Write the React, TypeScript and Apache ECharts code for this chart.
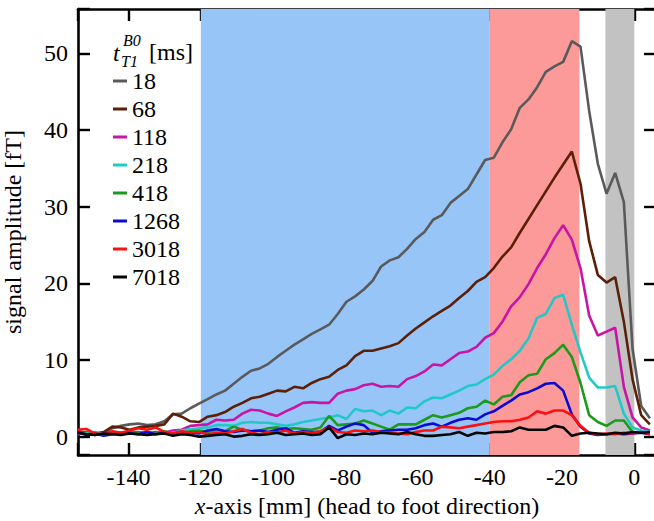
import React, { useEffect, useRef } from "react";
import * as echarts from "echarts";

// x positions of the samples [mm]
const xPos = [
  -154.1, -151.7, -149.3, -146.9, -144.5, -142.1, -139.7, -137.3, -134.9, -132.5,
  -130.1, -127.7, -125.3, -122.9, -120.5, -118.1, -115.7, -113.3, -110.9, -108.5,
  -106.1, -103.7, -101.3, -98.9, -96.5, -94.1, -91.7, -89.3, -86.9, -84.5,
  -82.1, -79.7, -77.3, -74.9, -72.5, -70.1, -67.7, -65.3, -62.9, -60.5,
  -58.1, -55.7, -53.3, -50.9, -48.5, -46.1, -43.7, -41.3, -38.9, -36.5,
  -34.1, -31.7, -29.3, -26.9, -24.5, -22.1, -19.7, -17.3, -14.9, -12.5,
  -10.1, -7.7, -5.3, -2.9, -0.5, 1.9, 4.3,
];

const t18 = [
  0.5, 0.4, 0.3, 0.5, 1.1, 1.4, 1.6, 1.7, 1.5, 1.6,
  2.0, 2.9, 3.0, 3.7, 4.3, 4.9, 5.5, 6.0, 6.9, 7.8,
  8.6, 8.9, 9.5, 10.4, 11.2, 12.0, 12.7, 13.4, 14.0, 14.6,
  16.0, 17.6, 18.3, 19.2, 20.3, 22.2, 23.0, 23.4, 24.5, 25.8,
  26.7, 28.3, 28.9, 30.5, 31.4, 32.3, 34.2, 36.1, 36.4, 38.4,
  40.1, 42.9, 44.0, 45.6, 47.6, 48.3, 48.9, 51.6, 50.9, 42.5,
  35.6, 31.7, 34.4, 30.6, 11.5, 4.0, 2.4,
];
const t68 = [
  0.7, 0.5, 0.4, 0.6, 1.3, 1.2, 0.9, 1.2, 1.3, 1.4,
  1.6, 3.0, 2.6, 2.0, 1.9, 2.6, 2.8, 3.2, 3.9, 4.4,
  5.0, 5.2, 5.6, 6.0, 5.9, 6.5, 6.3, 7.0, 7.5, 7.8,
  8.7, 9.3, 10.5, 11.2, 11.2, 11.5, 11.8, 12.2, 13.2, 14.1,
  14.9, 15.7, 16.4, 17.1, 18.1, 19.0, 20.2, 20.8, 22.0, 23.5,
  24.7, 26.6, 28.4, 30.2, 32.0, 33.8, 35.5, 37.2, 33.0, 25.5,
  21.1, 20.1, 20.8, 15.0, 7.5, 2.8, 1.6,
];
const t118 = [
  0.3, 0.6, 0.2, 0.4, 0.5, 0.3, 0.5, 0.6, 0.4, 0.6,
  0.5, 0.8, 0.9, 1.4, 1.5, 1.6, 2.2, 2.1, 2.2, 3.0,
  3.5, 3.4, 3.0, 2.7, 3.3, 3.8, 4.4, 4.5, 4.4, 4.4,
  5.6, 6.0, 6.2, 6.7, 6.9, 6.5, 6.6, 6.5, 7.5, 7.9,
  8.5, 9.4, 9.3, 10.1, 10.9, 11.1, 11.7, 12.9, 13.5, 15.0,
  17.0, 18.2, 19.9, 22.0, 23.8, 25.9, 27.6, 25.7, 22.0, 15.8,
  13.2, 13.7, 14.2, 6.5, 2.5, 1.2, 0.8,
];
const t218 = [
  0.5, 0.4, 0.6, 0.3, 0.5, 0.4, 0.6, 0.3, 0.5, 0.4,
  0.6, 0.5, 0.8, 1.0, 1.1, 1.2, 1.5, 1.5, 1.4, 1.8,
  1.9, 1.8, 1.8, 1.6, 1.4, 1.6, 1.9, 2.1, 2.3, 2.5,
  2.8, 2.3, 3.6, 3.3, 3.4, 2.8, 3.4, 3.0, 3.8, 3.7,
  4.6, 5.1, 5.0, 5.5, 6.0, 6.6, 6.8, 7.5, 8.1, 9.2,
  10.1, 11.2, 12.8, 15.5, 16.0, 18.1, 18.5, 14.6, 11.0, 7.7,
  6.4, 6.4, 6.6, 3.0, 1.2, 0.8, 0.6,
];
const t418 = [
  0.6, 0.3, 0.5, 0.2, 0.5, 0.4, 0.7, 0.5, 0.6, 0.4,
  0.7, 0.4, 0.5, 0.7, 0.8, 0.6, 0.9, 0.7, 1.3, 0.9,
  0.7, 0.8, 1.1, 1.2, 1.0, 1.1, 1.0, 0.9, 1.2, 2.7,
  1.5, 1.6, 1.7, 2.1, 1.7, 1.3, 0.9, 1.6, 1.6, 1.6,
  2.2, 2.8, 2.5, 2.8, 3.1, 3.7, 3.9, 4.7, 4.2, 5.2,
  5.4, 7.1, 8.0, 8.2, 10.1, 10.9, 12.0, 10.4, 7.0, 2.8,
  1.9, 1.4, 2.1, 2.1, 0.6, 0.5, 0.4,
];
const t1268 = [
  0.6, 0.2, 0.4, 0.1, 0.3, 0.5, 0.4, 0.3, 0.6, 0.3,
  0.5, 0.4, 0.6, 0.5, 0.4, 0.8, 1.0, 0.7, 0.6, 0.8,
  0.7, 0.8, 0.6, 0.9, 1.1, 0.5, 0.7, 0.6, 0.6, 1.4,
  0.8, 1.3, 1.7, 1.5, 0.5, 0.7, 0.8, 0.9, 0.9, 1.1,
  1.5, 1.7, 1.3, 1.8, 2.2, 2.4, 2.2, 2.9, 3.3, 4.0,
  4.7, 5.5, 5.8, 6.3, 6.9, 7.0, 6.0, 2.9, 1.3, 0.4,
  0.2, 0.3, 0.4, 0.3, 0.4, 0.5, 0.3,
];
const t3018 = [
  0.9, 1.0, 0.4, 0.3, 0.7, 0.5, 0.8, 1.1, 0.9, 1.2,
  0.6, 0.4, 0.7, 0.5, 0.6, 0.3, 0.5, 0.4, 0.7, 1.0,
  0.5, 0.3, 0.6, 0.5, 0.8, 0.4, 0.6, 0.5, 0.7, 1.2,
  0.6, 0.5, 0.8, 0.7, 0.8, 0.6, 0.5, 0.4, 0.3, 0.6,
  0.8, 0.8, 1.3, 1.2, 1.1, 1.3, 1.5, 1.7, 1.9, 2.0,
  2.0, 2.2, 2.5, 3.3, 3.0, 3.4, 3.4, 2.8, 1.4, 0.5,
  0.3, 0.4, 0.3, 0.5, 0.4, 0.6, 0.3,
];
const t7018 = [
  0.5, 0.3, 0.2, 0.4, 0.3, 0.2, 0.4, 0.3, 0.2, 0.3,
  0.4, 0.1, 0.3, 0.2, 0.0, 0.1, 0.2, 0.3, 0.0, 0.1,
  0.3, 0.2, 0.3, 0.5, 0.2, 0.3, 0.4, 0.2, 0.3, 1.2,
  -0.2, 0.3, 0.2, 0.4, 0.3, 0.5, 0.4, 0.3, 0.6, 0.3,
  0.1, 0.1, 0.2, 0.3, 0.6, 0.1, 0.5, 0.4, 0.6, 0.6,
  0.7, 1.2, 0.9, 0.9, 0.9, 1.4, 1.2, 0.1, 0.4, 0.5,
  0.4, 0.3, 0.5, 0.4, 0.6, 0.5, 0.6,
];

const seriesNames = ["18", "68", "118", "218", "418", "1268", "3018", "7018"];
const seriesValues = [t18, t68, t118, t218, t418, t1268, t3018, t7018];
const seriesColors = ["#5a5a5a", "#5c1f08", "#c815a8", "#22c8c8", "#1c9a1c", "#0a0ad2", "#fb1010", "#050505"];

// shaded regions along x [mm]
const bandStarts = [-120, -40, -8];
const bandEnds = [-40, -15.2, 0];
const bandColors = ["#97c5f8", "#fb9a98", "#c2c2c2"];

const FONT = "'Liberation Serif', serif";

export default function App() {
  const ref = useRef<HTMLDivElement>(null);
  useEffect(() => {
    if (!ref.current) return;
    const chart = echarts.init(ref.current, null, { renderer: "svg" });
    const tickFmt = (v: number) => (Math.abs(v % 10) < 1e-6 ? String(v) : "");
    const xFmt = (v: number) => (Math.abs(v % 20) < 1e-6 ? String(v) : "");
    const axisLine = { show: true, onZero: false, lineStyle: { color: "#000", width: 2.6 } };
    const axisTick = { show: true, inside: true, length: 12, lineStyle: { color: "#000", width: 2.4 } };
    const xCommon = { type: "value", min: -154, max: 6, splitNumber: 8, splitLine: { show: false } };
    const yCommon = { type: "value", min: -2.4, max: 55.8, splitNumber: 5, splitLine: { show: false } };

    const lineSeries = seriesNames.map((name, i) => ({
      name,
      type: "line",
      data: xPos.map((x, k) => [x, seriesValues[i][k]]),
      showSymbol: false,
      symbol: "none",
      z: 3 + i,
      lineStyle: { color: seriesColors[i], width: 2.6 },
      itemStyle: { color: seriesColors[i] },
    }));

    chart.setOption({
      animation: false,
      backgroundColor: "#fff",
      textStyle: { fontFamily: FONT },
      grid: { left: 78, right: -2, top: 9, bottom: 66, outerBoundsMode: "none", containLabel: false },
      xAxis: [
        {
          ...xCommon,
          position: "bottom",
          axisLine,
          axisTick,
          axisLabel: { formatter: xFmt, fontFamily: FONT, fontSize: 24, color: "#000", margin: 10 },
          name: "{i|x}-axis [mm] (head to foot direction)",
          nameLocation: "middle",
          nameGap: 38,
          nameTextStyle: {
            fontFamily: FONT,
            fontSize: 24,
            color: "#000",
            rich: { i: { fontFamily: FONT, fontSize: 24, fontStyle: "italic", color: "#000" } },
          },
        },
        {
          ...xCommon,
          position: "top",
          axisLine,
          axisTick,
          axisLabel: { show: false },
        },
      ],
      yAxis: [
        {
          ...yCommon,
          position: "left",
          axisLine,
          axisTick,
          axisLabel: { formatter: tickFmt, fontFamily: FONT, fontSize: 24, color: "#000", margin: 10 },
          name: "signal amplitude [fT]",
          nameLocation: "middle",
          nameRotate: 90,
          nameGap: 53,
          nameTextStyle: { fontFamily: FONT, fontSize: 24, color: "#000" },
        },
        {
          ...yCommon,
          position: "right",
          axisLine,
          axisTick,
          axisLabel: { show: false },
        },
      ],
      legend: {
        data: seriesNames,
        orient: "vertical",
        left: 113,
        top: 69,
        padding: 0,
        itemWidth: 14,
        itemHeight: 3,
        itemGap: 4,
        icon: "rect",
        textStyle: { fontFamily: FONT, fontSize: 24, color: "#000" },
      },
      graphic: [
        { type: "text", x: 113, y: 53, style: { text: "t", font: `italic 24px ${FONT}`, fill: "#000", verticalAlign: "middle" } },
        { type: "text", x: 123, y: 40, style: { text: "B0", font: `italic 16px ${FONT}`, fill: "#000", verticalAlign: "middle" } },
        { type: "text", x: 121, y: 61, style: { text: "T1", font: `italic 16px ${FONT}`, fill: "#000", verticalAlign: "middle" } },
        { type: "text", x: 149, y: 52, style: { text: "[ms]", font: `24px ${FONT}`, fill: "#000", verticalAlign: "middle" } },
      ],
      series: [
        {
          name: "bands",
          type: "line",
          data: [],
          z: 1,
          silent: true,
          markArea: {
            silent: true,
            data: bandStarts.map((s, i) => [
              { xAxis: s, itemStyle: { color: bandColors[i], opacity: 1 } },
              { xAxis: bandEnds[i] },
            ]),
          },
        },
        ...lineSeries,
      ],
    });
    return () => chart.dispose();
  }, []);
  return <div ref={ref} style={{ position: "fixed", left: 0, top: 0, width: 654, height: 521 }} />;
}
